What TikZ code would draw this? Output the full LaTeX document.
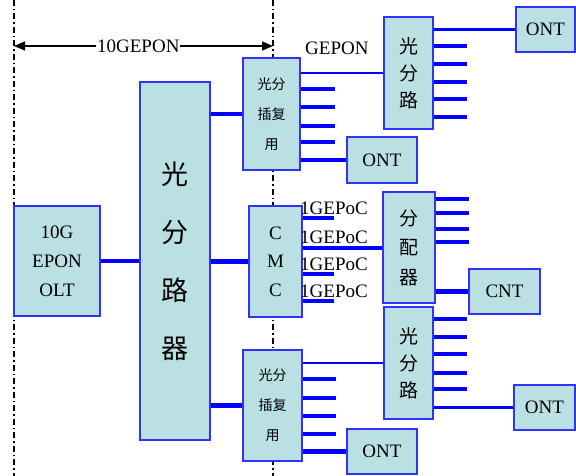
\documentclass[tikz,border=0pt]{standalone}
\usepackage{fontspec}
\setmainfont{Liberation Serif}
\newfontfamily\cjk{Noto Sans CJK SC}
\usetikzlibrary{arrows.meta}
\definecolor{boxfill}{RGB}{186,224,228}
\definecolor{edgeblue}{RGB}{50,50,255}
\definecolor{wire}{RGB}{0,0,255}
\begin{document}
\begin{tikzpicture}[x=1pt,y=-1pt,
  box/.style={draw=edgeblue, fill=boxfill, line width=1.3pt, inner sep=0pt, align=center},
  thickw/.style={draw=wire, line width=4.5pt},
  thinw/.style={draw=wire, line width=2.2pt},
  dashdot/.style={line width=1.4pt, dash pattern=on 6pt off 3pt on 1.5pt off 3pt},
  lat/.style={font={\fontsize{19}{29}\selectfont}},
  lbl/.style={font={\fontsize{19}{19}\selectfont}, inner sep=0pt},
]
\useasboundingbox (0,0) rectangle (576,476);
% dash-dot boundary lines
\coordinate (t1) at (14,0); \coordinate (b1) at (14,476);
\coordinate (t2) at (273,0); \coordinate (b2) at (273,476);
\draw[dashdot] (t1) -- (b1);
\draw[dashdot] (t2) -- (b2);
% span arrow
\coordinate (a1) at (14,46); \coordinate (a2) at (273,46);
\draw[line width=1.4pt, {Triangle[length=11pt,width=9pt]}-{Triangle[length=11pt,width=9pt]}] (a1) -- (a2)
  node[pos=0.48, fill=white, lbl, inner xsep=1pt] (span) {10GEPON};

% boxes
\node[box, lat, minimum width=86pt, minimum height=110pt] (olt) at (57,261) {10G\\EPON\\OLT};
\node[box, minimum width=70pt, minimum height=358pt, font={\cjk\fontsize{27}{58}\selectfont}] (big) at (175,261) {光\\分\\路\\器};
\node[box, minimum width=57pt, minimum height=112pt, font={\cjk\fontsize{14}{30}\selectfont}] (muxA) at (271.5,114) {光分\\插复\\用};
\node[box, minimum width=53pt, minimum height=111pt, font={\fontsize{19}{28.5}\selectfont}] (cmc) at (275.5,261.5) {C\\M\\C};
\node[box, minimum width=59pt, minimum height=111pt, font={\cjk\fontsize{14}{30}\selectfont}] (muxB) at (272.5,405.5) {光分\\插复\\用};
\node[box, minimum width=49pt, minimum height=112pt, font={\cjk\fontsize{19}{27}\selectfont}] (splA) at (408.5,73) {光\\分\\路};
\node[box, minimum width=52pt, minimum height=111pt, font={\cjk\fontsize{19}{29.5}\selectfont}] (dist) at (409,247.5) {分\\配\\器};
\node[box, minimum width=49pt, minimum height=112pt, font={\cjk\fontsize{19}{27}\selectfont}] (splB) at (408.5,363) {光\\分\\路};
\node[box, lat, minimum width=70pt, minimum height=46pt] (ontA) at (382,160) {ONT};
\node[box, lat, minimum width=70pt, minimum height=45pt] (ontB) at (382,451.5) {ONT};
\node[box, lat, minimum width=59pt, minimum height=45pt] (ontR1) at (545.5,29.5) {ONT};
\node[box, lat, minimum width=61pt, minimum height=45pt] (ontR2) at (544.5,407.5) {ONT};
\node[box, lat, minimum width=71pt, minimum height=45pt] (cnt) at (504.5,291.5) {CNT};

% labels
\node[lbl, anchor=west] (gepon) at (305,48) {GEPON};
\node[lbl, anchor=west] (g1) at (300,208) {1GEPoC};
\node[lbl, anchor=west] (g2) at (300,237) {1GEPoC};
\node[lbl, anchor=west] (g3) at (300,264) {1GEPoC};
\node[lbl, anchor=west] (g4) at (300,291) {1GEPoC};

% trunk wires
\draw[thickw] (olt.east) -- (big.west);
\draw[thickw] (big.east |- muxA.west) -- (muxA.west);
\draw[thickw] (big.east |- cmc.west) -- (cmc.west);
\draw[thickw] (big.east |- muxB.west) -- (muxB.west);

% mux A
\draw[thinw] (muxA.east |- 0,73) -- (splA.west |- 0,73);
\foreach \y in {89,107,126,142} \draw[thickw] (muxA.east |- 0,\y) -- ++(34,0);
\draw[thickw] (muxA.east |- ontA.west) -- (ontA.west);

% splitter A
\draw[thinw] (splA.east |- ontR1.west) -- (ontR1.west);
\foreach \y in {46,64,82,99,117} \draw[thickw] (splA.east |- 0,\y) -- ++(33,0);

% CMC
\foreach \y in {218,274,301} \draw[thickw] (cmc.east |- 0,\y) -- ++(31,0);
\draw[thickw] (cmc.east |- 0,248) -- (dist.west |- 0,248);

% distributor
\foreach \y in {199,213,229,242} \draw[thickw] (dist.east |- 0,\y) -- ++(33,0);
\draw[thickw] (dist.east |- cnt.west) -- (cnt.west);

% splitter B
\foreach \y in {319,337,354,373,389} \draw[thickw] (splB.east |- 0,\y) -- ++(33,0);
\draw[thinw] (splB.east |- ontR2.west) -- (ontR2.west);

% mux B
\draw[thinw] (muxB.east |- 0,363) -- (splB.west |- 0,363);
\foreach \y in {379,398,416,434} \draw[thickw] (muxB.east |- 0,\y) -- ++(33,0);
\draw[thickw] (muxB.east |- ontB.west) -- (ontB.west);
\end{tikzpicture}
\end{document}
